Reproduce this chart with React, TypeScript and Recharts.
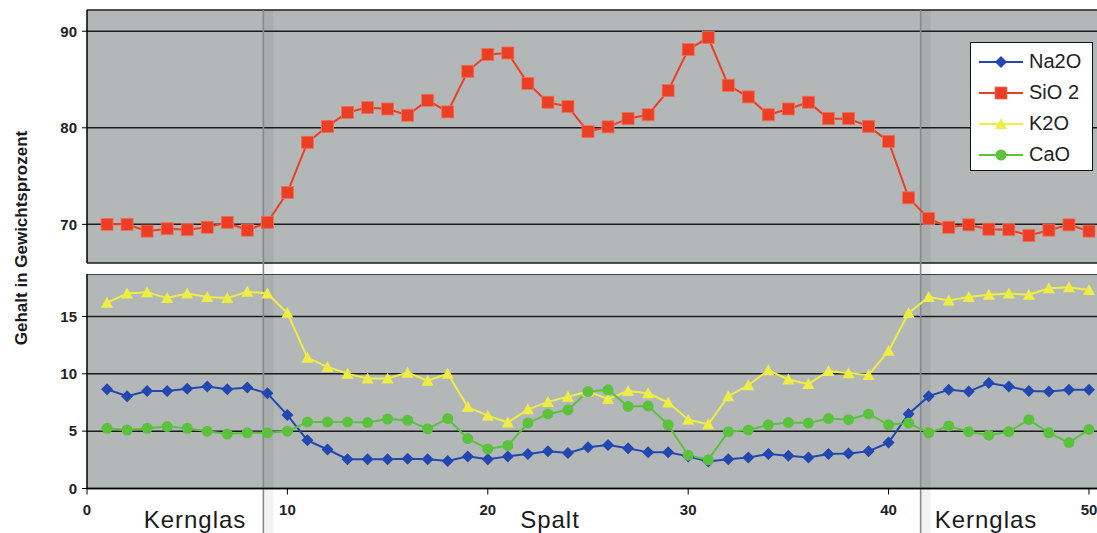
import React from "react";
import { LineChart, Line, XAxis, YAxis, CartesianGrid, ReferenceLine } from "recharts";

// Messpunkte entlang des Profils
const POSITIONS = [
  1, 2, 3, 4, 5, 6, 7, 8, 9, 10, 11, 12, 13, 14, 15, 16, 17, 18, 19, 20, 21, 22, 23, 24, 25,
  26, 27, 28, 29, 30, 31, 32, 33, 34, 35, 36, 37, 38, 39, 40, 41, 42, 43, 44, 45, 46, 47, 48, 49, 50,
];

const NA2O = [
  8.65, 8.05, 8.5, 8.5, 8.7, 8.9, 8.65, 8.8, 8.3, 6.4,
  4.2, 3.4, 2.55, 2.55, 2.55, 2.6, 2.55, 2.4, 2.8, 2.55,
  2.8, 3.0, 3.25, 3.1, 3.6, 3.8, 3.5, 3.15, 3.15, 2.8,
  2.35, 2.55, 2.7, 3.0, 2.85, 2.7, 3.0, 3.05, 3.25, 4.0,
  6.5, 8.05, 8.6, 8.45, 9.2, 8.9, 8.5, 8.45, 8.6, 8.6,
];

const SIO2 = [
  70.0, 70.0, 69.3, 69.55, 69.45, 69.7, 70.2, 69.4, 70.2, 73.3,
  78.5, 80.15, 81.6, 82.1, 81.95, 81.3, 82.85, 81.65, 85.85, 87.6,
  87.75, 84.6, 82.65, 82.2, 79.6, 80.1, 80.95, 81.35, 83.85, 88.1,
  89.35, 84.4, 83.2, 81.35, 81.95, 82.65, 80.95, 80.95, 80.15, 78.6,
  72.75, 70.6, 69.7, 69.95, 69.5, 69.45, 68.85, 69.4, 69.95, 69.3,
];

const K2O = [
  16.2, 17.0, 17.1, 16.6, 17.0, 16.7, 16.6, 17.15, 17.0, 15.3,
  11.4, 10.6, 10.0, 9.6, 9.6, 10.1, 9.4, 10.0, 7.1, 6.35,
  5.75, 6.9, 7.55, 8.0, 8.45, 7.8, 8.5, 8.3, 7.5, 6.0,
  5.6, 8.05, 9.0, 10.3, 9.5, 9.1, 10.25, 10.05, 9.9, 12.0,
  15.3, 16.7, 16.4, 16.7, 16.9, 17.0, 16.9, 17.45, 17.55, 17.3,
];

const CAO = [
  5.25, 5.1, 5.25, 5.4, 5.25, 5.0, 4.75, 4.85, 4.85, 5.0,
  5.8, 5.8, 5.8, 5.75, 6.05, 5.95, 5.2, 6.1, 4.35, 3.45,
  3.75, 5.7, 6.5, 6.85, 8.45, 8.6, 7.15, 7.2, 5.55, 2.9,
  2.5, 4.95, 5.1, 5.55, 5.75, 5.7, 6.1, 6.0, 6.5, 5.55,
  5.7, 4.85, 5.45, 4.95, 4.65, 4.95, 6.0, 4.85, 4.0, 5.15,
];

const X_TICKS = [0, 10, 20, 30, 40, 50];
const UPPER_TICKS = [70, 80, 90];
const LOWER_TICKS = [0, 5, 10, 15];
const BOUNDARIES = [8.8, 41.6]; // Grenze Kernglas / Spalt
const ZONES = [
  { label: "Kernglas", center: 195 },
  { label: "Spalt", center: 550 },
  { label: "Kernglas", center: 986 },
];

type MarkerKind = "diamond" | "square" | "triangle" | "circle";

const SERIES: { key: string; name: string; color: string; marker: MarkerKind }[] = [
  { key: "na2o", name: "Na2O", color: "#2347b0", marker: "diamond" },
  { key: "sio2", name: "SiO 2", color: "#ec3d25", marker: "square" },
  { key: "k2o", name: "K2O", color: "#eded45", marker: "triangle" },
  { key: "cao", name: "CaO", color: "#5cc23e", marker: "circle" },
];

const rows = POSITIONS.map((pos, i) => ({
  pos,
  na2o: NA2O[i],
  sio2: SIO2[i],
  k2o: K2O[i],
  cao: CAO[i],
}));

const FONT = '"Liberation Sans", Arial, sans-serif';
const PLOT_BG = "#b4b7b8";
const GRID = "#1c1c1c";

function Marker({ kind, cx, cy, color }: { kind: MarkerKind; cx: number; cy: number; color: string }) {
  if (cx == null || cy == null) return null;
  switch (kind) {
    case "diamond":
      return <polygon points={`${cx},${cy - 6} ${cx + 6},${cy} ${cx},${cy + 6} ${cx - 6},${cy}`} fill={color} />;
    case "square":
      return <rect x={cx - 6} y={cy - 6} width={12} height={12} fill={color} stroke="#f0704f" strokeWidth={0.8} />;
    case "triangle":
      return <polygon points={`${cx},${cy - 6} ${cx + 6},${cy + 5} ${cx - 6},${cy + 5}`} fill={color} />;
    default:
      return <circle cx={cx} cy={cy} r={5.5} fill={color} />;
  }
}

const makeDot = (kind: MarkerKind, color: string) => (p: any) =>
  <Marker key={`${kind}-${p.index}`} kind={kind} cx={p.cx} cy={p.cy} color={color} />;

// Trennlinie, die auch über die Lücke und unter die Achse hinaus läuft
const separator = (extBottom: number) => (p: any) => {
  const top = Math.min(p.y1, p.y2);
  const bottom = Math.max(p.y1, p.y2) + extBottom;
  return (
    <g>
      <rect x={p.x1} y={top} width={10} height={bottom - top} fill="rgba(0,0,0,0.05)" />
      <line x1={p.x1} x2={p.x1} y1={top} y2={bottom} stroke="#878b8d" strokeWidth={1.6} />
    </g>
  );
};

const tickStyle = { fontSize: 15, fontWeight: 700, fill: "#222", fontFamily: FONT };

function byKey(k: string) {
  return SERIES.find((s) => s.key === k)!;
}

export default function App() {
  const sio2 = byKey("sio2");
  const lower = SERIES.filter((s) => s.key !== "sio2");

  return (
    <div style={{ position: "absolute", left: 0, top: 0, width: 1097, height: 533, background: "#fff", fontFamily: FONT, overflow: "hidden" }}>
      {/* oberes Teildiagramm: SiO2 */}
      <div style={{ position: "absolute", left: 0, top: 0 }}>
        <LineChart width={1097} height={274} data={rows} margin={{ top: 10, right: 0, bottom: 11, left: 0 }}>
          <CartesianGrid vertical={false} fill={PLOT_BG} stroke={GRID} strokeWidth={1.5} />
          <XAxis type="number" dataKey="pos" domain={[0, 50.4]} allowDataOverflow hide />
          <YAxis
            width={87}
            domain={[66, 92.2]}
            allowDataOverflow
            ticks={UPPER_TICKS}
            tick={tickStyle}
            tickSize={5}
            tickMargin={5}
            axisLine={{ stroke: "#000", strokeWidth: 1.5 }}
            tickLine={{ stroke: "#000" }}
          />
          {BOUNDARIES.map((b) => (
            <ReferenceLine key={b} x={b} shape={separator(11)} />
          ))}
          <Line
            dataKey="sio2"
            name={sio2.name}
            stroke={sio2.color}
            strokeWidth={2}
            dot={makeDot(sio2.marker, sio2.color)}
            isAnimationActive={false}
          />
        </LineChart>
      </div>

      {/* unteres Teildiagramm: Na2O, K2O, CaO */}
      <div style={{ position: "absolute", left: 0, top: 274 }}>
        <LineChart width={1097} height={259} data={rows} margin={{ top: 0, right: 0, bottom: 0, left: 0 }}>
          <CartesianGrid vertical={false} fill={PLOT_BG} stroke={GRID} strokeWidth={1.5} />
          <XAxis
            type="number"
            dataKey="pos"
            domain={[0, 50.4]}
            allowDataOverflow
            ticks={X_TICKS}
            height={44.5}
            tick={tickStyle}
            tickSize={6}
            tickMargin={10}
            axisLine={{ stroke: "#000", strokeWidth: 1.5 }}
            tickLine={{ stroke: "#000" }}
          />
          <YAxis
            width={87}
            domain={[0, 18.7]}
            allowDataOverflow
            ticks={LOWER_TICKS}
            tick={tickStyle}
            tickSize={5}
            tickMargin={5}
            axisLine={{ stroke: "#000", strokeWidth: 1.5 }}
            tickLine={{ stroke: "#000" }}
          />
          {BOUNDARIES.map((b) => (
            <ReferenceLine key={b} x={b} shape={separator(45)} />
          ))}
          {lower.map((s) => (
            <Line
              key={s.key}
              dataKey={s.key}
              name={s.name}
              stroke={s.color}
              strokeWidth={2}
              dot={makeDot(s.marker, s.color)}
              isAnimationActive={false}
            />
          ))}
        </LineChart>
      </div>

      {/* Achsentitel */}
      <div
        style={{
          position: "absolute",
          left: 22 - 160,
          top: 238 - 11,
          width: 320,
          height: 22,
          lineHeight: "22px",
          textAlign: "center",
          transform: "rotate(-90deg)",
          fontSize: 17,
          fontWeight: 700,
          color: "#1a1a1a",
        }}
      >
        Gehalt in Gewichtsprozent
      </div>

      {/* Bereichsbeschriftungen */}
      {ZONES.map((z, i) => (
        <div
          key={i}
          style={{
            position: "absolute",
            left: z.center - 100,
            top: 508,
            width: 200,
            lineHeight: "24px",
            fontSize: 24,
            letterSpacing: 1,
            textAlign: "center",
            color: "#1a1a1a",
          }}
        >
          {z.label}
        </div>
      ))}

      {/* Legende */}
      <div
        style={{
          position: "absolute",
          left: 970,
          top: 42,
          width: 123,
          height: 129,
          background: "#fff",
          border: "1.5px solid #111",
          padding: "3px 0 0 6px",
          boxSizing: "border-box",
        }}
      >
        {SERIES.map((s) => (
          <div key={s.key} style={{ display: "flex", alignItems: "center", height: 31 }}>
            <svg width={48} height={20}>
              <line x1={2} x2={46} y1={10} y2={10} stroke={s.color} strokeWidth={2} />
              <Marker kind={s.marker} cx={24} cy={10} color={s.color} />
            </svg>
            <span style={{ fontSize: 20, color: "#222", marginLeft: 4 }}>{s.name}</span>
          </div>
        ))}
      </div>
    </div>
  );
}
